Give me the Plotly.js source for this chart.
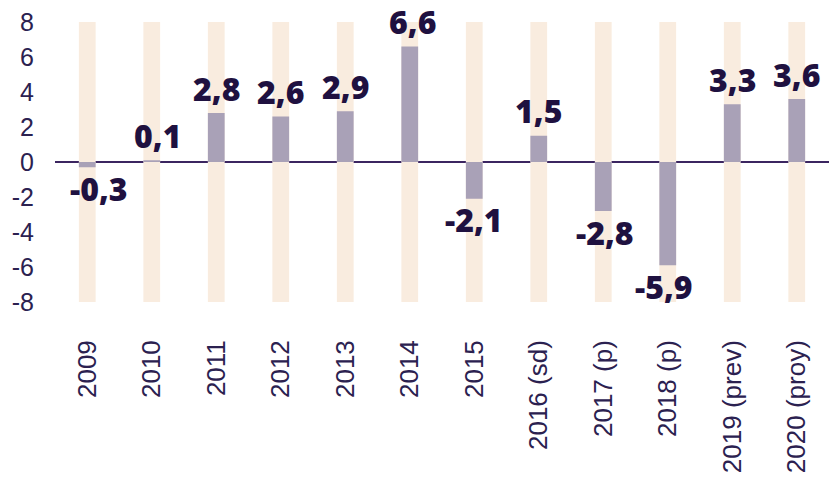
<!DOCTYPE html>
<html>
<head>
<meta charset="utf-8">
<script src="https://cdn.plot.ly/plotly-3.0.1.min.js"></script>
<style>html,body{margin:0;padding:0;background:#fff;}#chart{width:830px;height:490px;}</style>
</head>
<body>
<div id="chart"></div>
<script>
const categories = ["2009","2010","2011","2012","2013","2014","2015","2016 (sd)","2017 (p)","2018 (p)","2019 (prev)","2020 (proy)"];
const values = [-0.3, 0.1, 2.8, 2.6, 2.9, 6.6, -2.1, 1.5, -2.8, -5.9, 3.3, 3.6];
const yTicks = [-8, -6, -4, -2, 0, 2, 4, 6, 8];

const yMin = -8, yMax = 8;
const labelXShift = [12, 6, 0, 0, 0, 3, 0, 0, 2, -4, 0, 0];

const bg = {
  type: 'bar', x: categories,
  y: categories.map(() => yMax - yMin),
  base: categories.map(() => yMin),
  width: 0.26, marker: {color: '#f9ecdf'}, hoverinfo: 'skip', showlegend: false
};
const main = {
  type: 'bar', x: categories, y: values,
  width: 0.26, marker: {color: '#a9a1b7'}, showlegend: false
};

const annotations = values.map((v, i) => ({
  x: i, y: v, xref: 'x', yref: 'y',
  text: v.toFixed(1).replace('.', ','),
  showarrow: false, xanchor: 'center', yanchor: 'middle',
  yshift: v >= 0 ? 25 : -21, xshift: labelXShift[i],
  borderpad: 0,
  font: {family: 'Open Sans, sans-serif', size: 32, weight: 800, color: '#1f1140'}
}));

const layout = {
  width: 830, height: 490,
  margin: {l: 55, r: 1, t: 22, b: 188},
  paper_bgcolor: '#fff', plot_bgcolor: '#fff',
  barmode: 'overlay',
  xaxis: {
    type: 'category', range: [-0.5, 11.5], tickangle: -90,
    showgrid: false, zeroline: false, showline: false, ticks: '',
    ticklabelstandoff: 32,
    tickfont: {family: 'Liberation Sans, Arial, sans-serif', size: 26, color: '#2b2150'}
  },
  yaxis: {
    range: [yMin, yMax], tickvals: yTicks, ticktext: yTicks.map(String),
    showgrid: false, showline: false, ticks: '',
    zeroline: true, zerolinecolor: '#3b2560', zerolinewidth: 1.5,
    layer: 'above traces', ticklabelstandoff: 20,
    tickfont: {family: 'Liberation Sans, Arial, sans-serif', size: 25, color: '#2b2150'}
  },
  annotations: annotations,
  font: {family: 'Liberation Sans, Arial, sans-serif'}
};

Plotly.newPlot('chart', [bg, main], layout, {staticPlot: true, displayModeBar: false});
</script>
</body>
</html>
